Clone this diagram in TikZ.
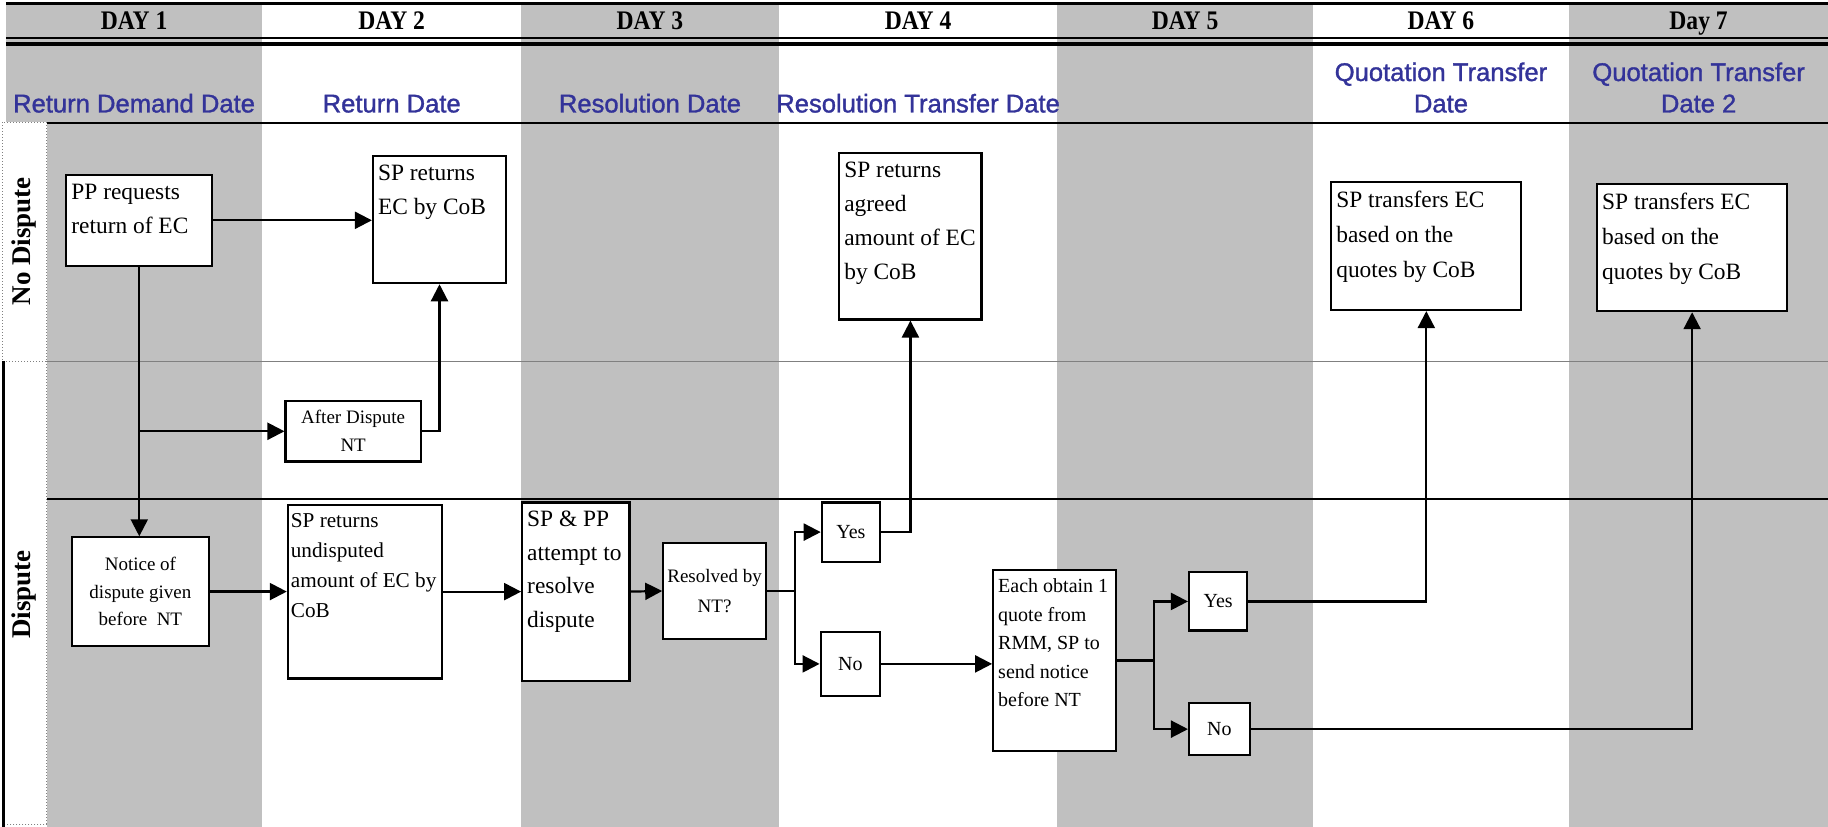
\documentclass[tikz,border=0pt]{standalone}
\usepackage{fontspec}
\setmainfont{Liberation Serif}
\newfontfamily\datefont[FakeBold=1.3]{Liberation Sans}
\newfontfamily\dayfont[FakeStretch=0.88]{Liberation Serif}
\usetikzlibrary{arrows.meta}
\definecolor{colgray}{RGB}{192,192,192}
\definecolor{dateblue}{RGB}{51,51,153}
\definecolor{lanegray}{RGB}{128,128,128}

\begin{document}
\begin{tikzpicture}[x=0.5829pt,y=-0.5829pt]
    \tikzstyle{box}=[draw, line width=1.1pt, fill=white, anchor=north west, inner xsep=2.5pt, inner ysep=4.5pt, font=\fontsize{11.7}{17}\selectfont]
    \tikzstyle{smallbox}=[draw, line width=1.1pt, fill=white, anchor=north west, inner sep=0pt, align=center, font=\fontsize{9.5}{14}\selectfont]
    \tikzstyle{flow}=[line width=1.1pt, -{Triangle[length=8.5pt,width=8.5pt]}]
    \tikzstyle{day}=[anchor=base, font=\dayfont\bfseries\fontsize{13.4}{16}\selectfont]
    \tikzstyle{date}=[anchor=south, inner sep=0pt, align=center, text=dateblue, font=\datefont\fontsize{12.8}{15.7}\selectfont]
    \tikzstyle{lane}=[rotate=90, font=\bfseries\fontsize{13.5}{16}\selectfont]

    \useasboundingbox (0,0) rectangle (1568,709);

    % day columns
    \fill[colgray] (5,3) rectangle (225,709);
    \fill[colgray] (447,3) rectangle (668,709);
    \fill[colgray] (907,3) rectangle (1126,709);
    \fill[colgray] (1346,3) rectangle (1568,709);
    \fill[white] (0,105) rectangle (40,709);

    % header rules
    \draw[line width=1.1pt] (5,3) -- (1568,3);
    \draw[line width=1pt] (5,32.5) -- (1568,32.5);
    \draw[line width=1.9pt] (5,37.5) -- (1568,37.5);
    \draw[line width=1pt] (40,105.5) -- (1568,105.5);

    % lanes
    \draw[lanegray, line width=0.8pt] (40,310) -- (1568,310);
    \draw[line width=0.6pt] (40,428) -- (1568,428);
    \draw[gray, densely dotted, line width=0.5pt] (2,105) rectangle (40,310);
    \draw[gray, densely dotted, line width=0.5pt] (40,310) -- (40,707) -- (2,707);
    \draw[line width=1.8pt] (3,310) -- (3,709);

    \node[lane] (nodisp) at (21,207) {No Dispute};
    \node[lane] (disp) at (21,510) {Dispute};

    % days
    \node[day] (da) at (115,25) {DAY 1};
    \node[day] (db) at (336,25) {DAY 2};
    \node[day] (dc) at (557.5,25) {DAY 3};
    \node[day] (dd) at (787.5,25) {DAY 4};
    \node[day] (de) at (1016.5,25) {DAY 5};
    \node[day] (df) at (1236,25) {DAY 6};
    \node[day] (dg) at (1457,25) {Day 7};

    \node[date] (dta) at (115,97) {Return Demand Date};
    \node[date] (dtb) at (336,97) {Return Date};
    \node[date] (dtc) at (557.5,97) {Resolution Date};
    \node[date] (dtd) at (787.5,97) {Resolution Transfer Date};
    \node[date] (dtf) at (1236,97) {Quotation Transfer\\Date};
    \node[date] (dtg) at (1457,97) {Quotation Transfer\\Date 2};

    % steps
    \node[box] (pp) at (56,149) {\parbox[c][36.5pt][t]{67.9pt}{PP requests\\return of EC}};
    \node[box] (ret) at (319,133) {\parbox[c][54.5pt][t]{61.5pt}{SP returns\\EC by CoB}};
    \node[smallbox, minimum width=67.6pt, minimum height=30.3pt] (after) at (244,343) {After Dispute\\NT};
    \node[smallbox, minimum width=68.2pt, minimum height=54.2pt, font=\fontsize{9.5}{13.7}\selectfont] (notice) at (61,460) {Notice of\\dispute given\\before~ NT};
    \node[box, inner xsep=1.5pt, font=\fontsize{10.6}{15}\selectfont] (undisp) at (246,432) {\parbox[c][77.9pt][t]{73.9pt}{SP returns\\undisputed\\amount of EC by\\CoB}};
    \node[box, font=\fontsize{11.7}{16.7}\selectfont] (attempt) at (447,430) {\parbox[c][80.2pt][t]{48.6pt}{SP \& PP\\attempt to\\resolve\\dispute}};
    \node[smallbox, minimum width=51.3pt, minimum height=47.8pt, font=\fontsize{9.5}{14.6}\selectfont] (resolved) at (568,465) {Resolved by\\NT?};
    \node[smallbox, minimum width=29.1pt, minimum height=29.7pt, font=\fontsize{10}{12}\selectfont] (yesa) at (704,430) {Yes};
    \node[smallbox, minimum width=29.7pt, minimum height=32.1pt, font=\fontsize{10}{12}\selectfont] (noa) at (703,541) {No};
    \node[box] (agreed) at (719,130) {\parbox[c][74.4pt][t]{66.1pt}{SP returns\\agreed\\amount of EC\\by CoB}};
    \node[box, font=\fontsize{10}{14.2}\selectfont] (quote) at (851,488) {\parbox[c][81.4pt][t]{56.2pt}{Each obtain 1\\quote from\\RMM, SP to\\send notice\\before NT}};
    \node[smallbox, minimum width=29.1pt, minimum height=29.1pt, font=\fontsize{10}{12}\selectfont] (yesb) at (1019,490) {Yes};
    \node[smallbox, minimum width=30.3pt, minimum height=26.2pt, font=\fontsize{10}{12}\selectfont] (nob) at (1019,602) {No};
    \node[box, font=\fontsize{11.7}{17.5}\selectfont] (transa) at (1141,155) {\parbox[c][55.1pt][t]{90pt}{SP transfers EC\\based on the\\quotes by CoB}};
    \node[box, font=\fontsize{11.7}{17.5}\selectfont] (transb) at (1369,157) {\parbox[c][54.5pt][t]{90pt}{SP transfers EC\\based on the\\quotes by CoB}};

    % flow
    \draw[flow] (pp.east) -- (pp.east -| ret.west);
    \draw[flow] (pp.south) -- (pp.south |- notice.north);
    \draw[flow] (pp.south |- after.west) -- (after.west);
    \draw[flow] (after.east) -| (ret.south);
    \draw[flow] (notice.east) -- (notice.east -| undisp.west);
    \draw[flow] (undisp.east) -- (undisp.east -| attempt.west);
    \draw[flow] (attempt.east) -- (resolved.west);
    \draw[line width=1.1pt] (resolved.east) -- ++(24,0) coordinate (forka);
    \draw[flow] (forka) |- (yesa.west);
    \draw[flow] (forka) |- (noa.west);
    \draw[flow] (yesa.east) -| (agreed.south);
    \draw[flow] (noa.east) -- (noa.east -| quote.west);
    \draw[line width=1.1pt] (quote.east) -- ++(32,0) coordinate (forkb);
    \draw[flow] (forkb) |- (yesb.west);
    \draw[flow] (forkb) |- (nob.west);
    \draw[flow] (yesb.east) -| (transa.south);
    \draw[flow] (nob.east) -| (transb.south);
\end{tikzpicture}
\end{document}
